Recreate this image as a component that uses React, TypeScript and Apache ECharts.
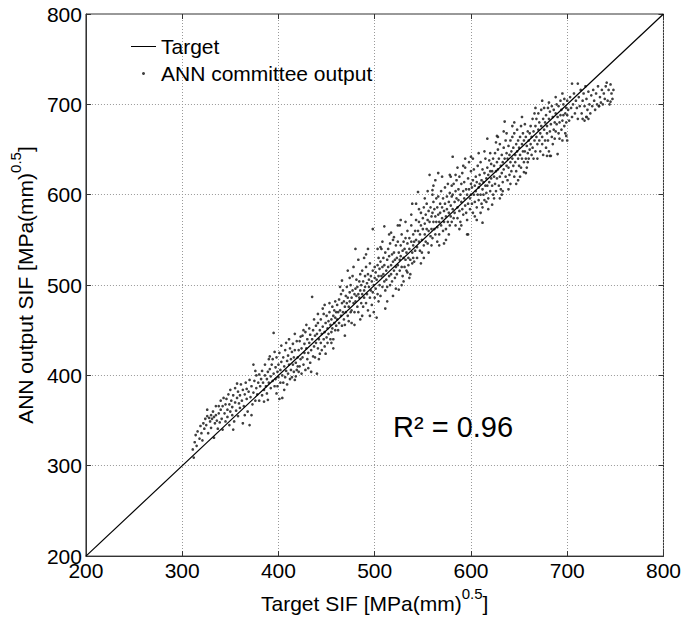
import React, { useEffect, useRef } from "react";
import * as echarts from "echarts";

const axisMin = 200;
const axisMax = 800;
const tickStep = 100;
const targetLine = [
  [200, 200],
  [800, 800],
];
const legendNames = ["Target", "ANN committee output"];
const rSquaredLabel = "R\u00B2 = 0.96";

// [target SIF, ANN output SIF]
const annCommitteeOutput: number[][] = [
  // 310-340
  [311,318],[312,309],[313,326],[314,334],[315,322],[316,338],[318,330],[319,344],[320,336],[321,328],[322,347],[323,341],[324,352],[325,345],[326,355],[327,336],[328,353],[329,349],[330,356],[330,342],[331,352],[332,360],[333,354],[334,347],[335,356],[335,366],[336,350],[337,341],[338,366],[338,358],[339,348],[340,362],[340,372],[333,331],[326,362],
  // 340-380
  [341,352],[342,366],[342,340],[343,375],[344,358],[345,349],[345,368],[346,374],[347,362],[347,354],[348,379],[349,345],[349,368],[350,360],[350,384],[351,372],[352,356],[352,365],[353,378],[354,349],[355,370],[355,386],[356,361],[357,375],[358,355],[358,382],[359,369],[360,378],[360,364],[361,390],[362,372],[363,347],[363,384],[364,366],[365,379],[366,392],[367,374],[367,385],[368,360],[369,382],[370,345],[370,395],[371,376],[372,388],[373,368],[374,412],[374,381],[375,394],[376,372],[377,386],[377,400],[378,379],[379,392],[380,372],[380,401],[365,356],[357,391],[353,340],[372,356],[376,405],
  // 380-420
  [381,388],[382,396],[383,378],[383,405],[384,392],[385,384],[386,400],[386,412],[387,388],[388,380],[388,396],[389,404],[390,392],[390,418],[391,407],[392,386],[392,399],[393,412],[394,418],[394,394],[395,447],[395,402],[396,388],[397,409],[397,396],[398,420],[399,388],[399,404],[400,398],[400,412],[401,374],[401,425],[402,392],[402,406],[403,415],[404,375],[404,400],[405,420],[405,392],[406,410],[407,398],[407,428],[408,405],[409,416],[409,390],[410,422],[410,402],[411,412],[412,396],[412,430],[413,418],[413,406],[414,426],[414,398],[415,412],[415,435],[416,420],[416,404],[417,395],[417,428],[418,399],[418,414],[419,438],[419,406],[420,420],[420,410],[385,371],[391,421],[398,380],[403,433],[406,384],[411,440],[396,426],[389,373],[408,436],[417,446],
  // 420-460
  [421,428],[421,404],[422,410],[422,438],[423,418],[424,430],[424,402],[425,444],[425,420],[426,412],[427,435],[427,425],[428,406],[428,448],[429,430],[430,418],[430,440],[431,425],[432,452],[432,436],[433,414],[433,445],[434,428],[435,487],[435,440],[436,421],[436,450],[437,432],[438,444],[438,420],[439,455],[439,436],[440,402],[440,446],[441,430],[441,458],[442,440],[443,450],[443,424],[444,436],[444,462],[445,446],[445,428],[446,454],[447,440],[447,468],[448,448],[448,432],[449,458],[450,442],[450,466],[451,452],[451,436],[452,460],[452,446],[453,470],[454,440],[454,456],[455,462],[455,448],[456,476],[456,452],[457,466],[457,440],[458,458],[458,472],[459,450],[459,464],[460,470],[460,455],[426,450],[431,408],[437,462],[442,418],[446,474],[449,424],[453,480],[457,430],[423,443],[429,456],[434,404],[448,478],[455,436],[441,468],[459,482],
  // 460-500
  [461,462],[461,478],[462,450],[462,470],[463,484],[463,458],[464,472],[465,490],[465,466],[466,455],[466,480],[467,470],[467,494],[468,462],[468,482],[469,476],[469,456],[470,488],[470,470],[471,498],[471,480],[472,466],[472,486],[473,476],[473,460],[474,492],[474,482],[475,470],[475,500],[476,486],[476,472],[477,510],[477,494],[478,520],[478,480],[479,490],[479,470],[480,540],[480,496],[480,482],[481,488],[481,506],[482,476],[482,498],[483,490],[483,470],[484,504],[484,486],[485,512],[485,494],[486,480],[486,500],[487,490],[487,516],[488,476],[488,504],[489,494],[489,486],[490,510],[490,498],[491,480],[491,520],[492,502],[492,490],[493,512],[493,472],[494,498],[494,506],[495,486],[495,524],[496,510],[496,494],[497,478],[497,504],[498,562],[498,516],[498,492],[499,500],[499,470],[500,508],[500,520],[500,486],[464,498],[469,444],[474,508],[479,456],[483,528],[487,466],[491,534],[495,466],[466,505],[472,516],[476,458],[485,462],[489,530],[493,540],
  // 500-540
  [501,496],[501,514],[502,464],[502,506],[503,522],[503,490],[504,510],[504,530],[505,500],[505,518],[506,488],[506,526],[507,510],[507,540],[508,498],[508,520],[509,512],[509,530],[510,565],[510,504],[510,522],[511,494],[511,536],[512,516],[512,506],[513,528],[513,498],[514,540],[514,520],[515,510],[515,532],[516,500],[516,546],[517,522],[517,512],[518,534],[518,504],[519,526],[519,550],[520,553],[520,516],[520,536],[521,508],[521,528],[522,520],[522,544],[523,530],[523,512],[524,548],[524,522],[525,495],[525,536],[526,528],[526,516],[527,544],[527,532],[528,520],[528,556],[529,538],[529,510],[530,530],[530,548],[531,520],[531,540],[532,552],[532,528],[533,536],[533,516],[534,546],[534,560],[535,530],[535,522],[536,552],[536,540],[537,528],[537,512],[538,548],[538,566],[539,536],[539,524],[540,556],[540,544],[540,530],[504,482],[508,548],[513,482],[517,558],[522,496],[526,566],[530,504],[534,514],[538,578],[506,542],[511,474],[515,556],[519,488],[524,566],[528,500],[532,570],[536,508],[539,590],[503,540],[527,572],
  // 540-580
  [541,548],[541,526],[542,560],[542,538],[543,550],[543,572],[544,542],[544,530],[545,603],[545,560],[546,548],[546,570],[547,538],[547,556],[548,566],[548,580],[549,550],[549,536],[550,562],[550,574],[551,544],[551,586],[552,568],[552,556],[553,548],[553,578],[554,562],[554,590],[555,572],[555,546],[556,582],[556,560],[557,622],[557,570],[558,554],[558,586],[559,576],[559,562],[560,600],[560,580],[560,552],[561,570],[561,592],[562,562],[562,584],[563,576],[563,556],[564,596],[564,570],[565,586],[565,564],[566,578],[566,598],[567,570],[567,556],[568,590],[568,580],[569,566],[569,604],[570,586],[570,574],[571,560],[571,596],[572,582],[572,570],[573,608],[573,590],[574,576],[574,562],[575,598],[575,584],[576,570],[576,612],[577,592],[577,580],[578,566],[578,602],[579,588],[579,576],[580,598],[580,610],[580,570],[543,590],[548,524],[552,596],[556,536],[561,610],[565,548],[570,620],[574,550],[578,622],[546,584],[551,530],[555,604],[559,544],[563,616],[567,544],[572,546],[577,556],[579,620],
  // 580-620
  [581,584],[581,600],[582,574],[582,612],[583,592],[583,580],[584,604],[584,566],[585,596],[585,616],[586,586],[586,574],[587,606],[587,594],[588,620],[588,582],[589,600],[589,570],[590,612],[590,592],[591,584],[591,624],[592,604],[592,578],[593,596],[593,614],[594,588],[594,630],[595,606],[595,580],[596,556],[596,600],[597,618],[597,590],[598,636],[598,606],[599,596],[599,584],[600,612],[600,600],[600,626],[601,590],[601,608],[602,616],[602,580],[603,600],[603,628],[604,610],[604,592],[605,620],[605,604],[606,586],[606,614],[607,632],[607,600],[608,608],[608,594],[609,622],[609,612],[610,600],[610,636],[611,616],[611,590],[612,606],[612,628],[613,614],[613,600],[614,624],[614,594],[615,640],[615,610],[616,618],[616,602],[617,630],[617,610],[618,596],[618,622],[619,614],[619,638],[620,604],[620,626],[584,622],[588,562],[592,632],[596,572],[600,642],[604,576],[608,646],[612,586],[616,592],[620,646],[586,630],[590,566],[594,640],[602,640],[606,572],[610,580],[614,648],[618,584],[622,589],[581,642],[566,624],[560,605],[612,569],[597,556],
  // 620-660
  [621,618],[621,634],[622,610],[622,626],[623,640],[623,600],[624,620],[624,632],[625,612],[625,646],[626,626],[626,604],[627,636],[627,618],[628,650],[628,628],[629,610],[629,640],[630,620],[630,656],[631,632],[631,606],[632,644],[632,624],[633,636],[633,614],[634,652],[634,628],[635,681],[635,640],[636,620],[636,660],[637,632],[637,646],[638,616],[638,640],[639,654],[639,630],[640,644],[640,622],[641,660],[641,636],[642,648],[642,626],[643,664],[643,640],[644,632],[644,652],[645,620],[645,668],[646,644],[646,636],[647,656],[647,626],[648,648],[648,672],[649,640],[649,660],[650,632],[650,652],[651,664],[651,644],[652,630],[652,676],[653,656],[653,640],[654,648],[654,668],[655,636],[655,660],[656,678],[656,648],[657,640],[657,664],[658,654],[658,630],[659,670],[659,646],[660,660],[660,640],[624,596],[628,664],[632,600],[637,668],[641,612],[645,680],[649,616],[653,686],[657,624],[626,658],[630,596],[634,670],[639,606],[643,676],[647,612],[651,620],[655,625],[659,636],[617,662],[627,665],[633,604],
  // 660-700
  [661,668],[661,650],[662,656],[662,676],[663,644],[663,664],[664,684],[664,652],[665,670],[665,640],[666,660],[666,690],[667,676],[667,648],[668,664],[668,684],[669,656],[669,640],[670,672],[670,690],[671,660],[671,680],[672,648],[672,668],[673,694],[673,676],[674,656],[674,664],[675,684],[675,644],[676,672],[676,696],[677,660],[677,680],[678,652],[678,688],[679,668],[679,676],[680,660],[680,696],[681,684],[681,648],[682,670],[682,692],[683,643],[683,678],[684,664],[684,698],[685,686],[685,656],[686,672],[686,694],[687,680],[687,662],[688,690],[688,670],[689,700],[689,678],[690,645],[690,686],[691,668],[691,698],[692,680],[692,662],[693,704],[693,688],[694,672],[694,694],[695,682],[695,660],[696,700],[696,688],[697,676],[697,706],[698,690],[698,668],[699,696],[699,680],[700,660],[700,704],[700,688],[667,696],[674,704],[681,702],[688,708],[695,712],[699,665],[679,643],[682,643],
  // 700-750
  [701,694],[702,682],[703,708],[704,696],[705,723],[705,686],[706,700],[707,712],[708,690],[709,704],[710,696],[711,723],[711,684],[712,708],[713,698],[714,716],[715,690],[716,704],[717,712],[718,698],[719,720],[720,686],[720,706],[721,694],[722,714],[723,700],[724,690],[725,710],[726,698],[727,716],[728,704],[729,694],[730,712],[731,700],[732,720],[733,698],[734,708],[735,702],[736,716],[737,700],[738,712],[739,706],[740,720],[741,724],[742,704],[743,716],[744,700],[745,722],[746,712],[747,706],[748,716],[718,682],[722,684],[716,684],[745,703],[733,698],[720,686]
];

const FONT = "'Liberation Sans', Arial, Helvetica, sans-serif";

export default function App() {
  const ref = useRef<HTMLDivElement>(null);
  useEffect(() => {
    if (!ref.current) return;
    const chart = echarts.init(ref.current, null, { renderer: "svg" });
    const richTitle = {
      a: { fontSize: 21, fontFamily: FONT, color: "#000", lineHeight: 28, verticalAlign: "bottom" },
      s: { fontSize: 15, fontFamily: FONT, color: "#000", lineHeight: 15, verticalAlign: "top" },
    };
    const valueAxisCommon = {
      type: "value",
      min: axisMin,
      max: axisMax,
      interval: tickStep,
    };
    chart.setOption({
      animation: false,
      backgroundColor: "#fff",
      textStyle: { fontFamily: FONT },
      grid: {
        left: 81,
        right: 19,
        top: 14,
        bottom: 57,
        show: true,
        borderColor: "#333",
        borderWidth: 1,
        backgroundColor: "transparent",
      },
      legend: {
        orient: "vertical",
        left: 131,
        top: 36,
        padding: 0,
        itemWidth: 25,
        itemHeight: 3,
        itemGap: 6,
        symbolKeepAspect: true,
        data: [
          { name: legendNames[0], icon: "path://M0,0L25,0L25,1L0,1Z", itemStyle: { color: "#000" } },
          { name: legendNames[1], icon: "circle", itemStyle: { color: "#2a2a2a" } },
        ],
        textStyle: { fontSize: 21, fontFamily: FONT, color: "#000" },
      },
      xAxis: [
        {
          ...valueAxisCommon,
          position: "bottom",
          name: "{a|Target SIF [MPa(mm)}{s|0.5}{a|]}",
          nameLocation: "middle",
          nameGap: 27,
          nameTextStyle: { rich: richTitle },
          axisLine: { show: true, lineStyle: { color: "#333", width: 1 } },
          axisTick: { show: true, inside: true, length: 5, lineStyle: { color: "#333" } },
          axisLabel: { fontSize: 21, color: "#000", fontFamily: FONT, margin: 4 },
          splitLine: { show: true, lineStyle: { color: "#999", type: [1, 2], width: 1 } },
        },
        {
          ...valueAxisCommon,
          position: "top",
          axisLine: { show: false },
          axisTick: { show: true, inside: true, length: 5, lineStyle: { color: "#333" } },
          axisLabel: { show: false },
          splitLine: { show: false },
        },
      ],
      yAxis: [
        {
          ...valueAxisCommon,
          position: "left",
          name: "{a|ANN output SIF [MPa(mm)}{s|0.5}{a|]}",
          nameLocation: "middle",
          nameGap: 46,
          nameTextStyle: { rich: richTitle },
          axisLine: { show: true, lineStyle: { color: "#333", width: 1 } },
          axisTick: { show: true, inside: true, length: 5, lineStyle: { color: "#333" } },
          axisLabel: { fontSize: 21, color: "#000", fontFamily: FONT, margin: 4 },
          splitLine: { show: true, lineStyle: { color: "#999", type: [1, 2], width: 1 } },
        },
        {
          ...valueAxisCommon,
          position: "right",
          axisLine: { show: false },
          axisTick: { show: true, inside: true, length: 5, lineStyle: { color: "#333" } },
          axisLabel: { show: false },
          splitLine: { show: false },
        },
      ],
      series: [
        {
          name: legendNames[0],
          type: "line",
          data: targetLine,
          symbol: "none",
          showSymbol: false,
          lineStyle: { color: "#000", width: 1.2 },
          itemStyle: { color: "#000" },
          z: 3,
        },
        {
          name: legendNames[1],
          type: "scatter",
          data: annCommitteeOutput,
          symbol: "circle",
          symbolSize: 2.7,
          itemStyle: { color: "#2a2a2a", opacity: 0.9 },
          z: 2,
        },
      ],
      graphic: [
        {
          type: "text",
          left: 393,
          top: 412,
          style: {
            text: rSquaredLabel,
            fontSize: 29,
            fontFamily: FONT,
            fill: "#000",
          },
        },
      ],
    });
    return () => chart.dispose();
  }, []);
  return (
    <div
      ref={ref}
      style={{ position: "fixed", left: 0, top: 0, width: 684, height: 619 }}
    />
  );
}
